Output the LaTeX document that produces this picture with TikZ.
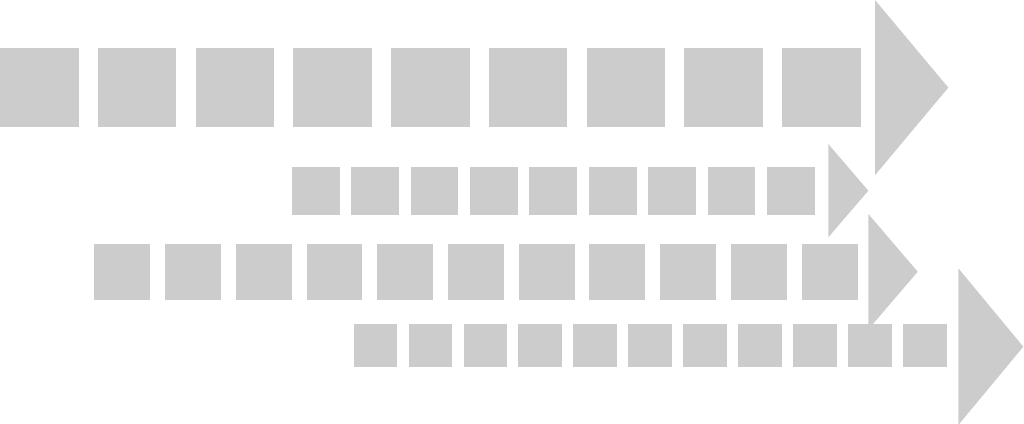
\documentclass[tikz,border=0pt]{standalone}
\definecolor{blockgray}{RGB}{204,204,204}
\tikzset{blk/.style={fill=blockgray,draw=none}}
\begin{document}
\begin{tikzpicture}[x=1pt,y=-1pt]
\useasboundingbox (0,0) rectangle (1024,423);
\clip (0,0) rectangle (1024,423);
% row 1
\foreach \i in {0,...,8}
  \fill[blk] ({0+\i*97.75},48.3) rectangle ++(78.5,78.4);
\fill[blk] (875,0) -- (875,175.2) -- (948.3,87.6) -- cycle;
% row 2
\foreach \i in {0,...,8}
  \fill[blk] ({291.7+\i*59.4},166.8) rectangle ++(47.8,47.8);
\fill[blk] (828.3,144) -- (828.3,237.3) -- (868.3,190.7) -- cycle;
% row 3
\foreach \i in {0,...,10}
  \fill[blk] ({94.3+\i*70.74},244) rectangle ++(55.8,55.7);
\fill[blk] (868.3,214) -- (868.3,329.4) -- (917.7,271.7) -- cycle;
% row 4
\foreach \i in {0,...,10}
  \fill[blk] ({353.7+\i*54.93},324) rectangle ++(43.5,42.7);
\fill[blk] (958.3,268.3) -- (958.3,425) -- (1023.3,346.7) -- cycle;
\end{tikzpicture}
\end{document}
